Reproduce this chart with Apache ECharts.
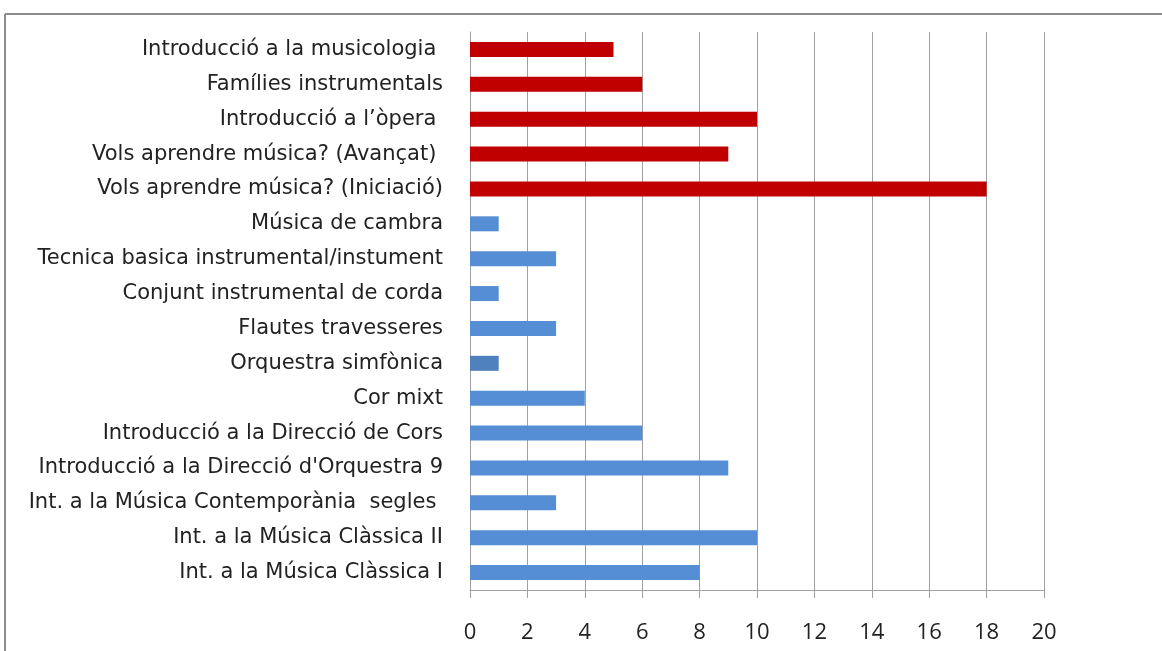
<!DOCTYPE html>
<html>
<head>
<meta charset="utf-8">
<script src="https://cdn.jsdelivr.net/npm/echarts@6/dist/echarts.min.js"></script>
<style>
html,body{margin:0;padding:0;background:#fff;}
#main{width:1162px;height:651px;}
</style>
</head>
<body>
<div id="main"></div>
<script>
const categories = [
  "Introducció a la musicologia ",
  "Famílies instrumentals",
  "Introducció a l’òpera ",
  "Vols aprendre música? (Avançat) ",
  "Vols aprendre música? (Iniciació)",
  "Música de cambra",
  "Tecnica basica instrumental/instument",
  "Conjunt instrumental de corda",
  "Flautes travesseres",
  "Orquestra simfònica",
  "Cor mixt",
  "Introducció a la Direcció de Cors",
  "Introducció a la Direcció d'Orquestra 9",
  "Int. a la Música Contemporània  segles ",
  "Int. a la Música Clàssica II",
  "Int. a la Música Clàssica I"
];
const values = [5, 6, 10, 9, 18, 1, 3, 1, 3, 1, 4, 6, 9, 3, 10, 8];
const groups = ["red","red","red","red","red","blue","blue","blue","blue","dark","blue","blue","blue","blue","blue","blue"];
const xTicks = [0, 20, 2];

const colorMap = {red: "#C00000", blue: "#558ED5", dark: "#4F81BD"};

const chart = echarts.init(document.getElementById('main'));
chart.setOption({
  animation: false,
  backgroundColor: "#fff",
  graphic: [
    {type: 'line', shape: {x1: 5, y1: 14, x2: 1170, y2: 14}, style: {stroke: '#8c8c8c', lineWidth: 2}},
    {type: 'line', shape: {x1: 5, y1: 14, x2: 5, y2: 660}, style: {stroke: '#8c8c8c', lineWidth: 2}}
  ],
  grid: {left: 470, right: 118, top: 32, bottom: 61, containLabel: false},
  xAxis: {
    type: 'value',
    min: xTicks[0], max: xTicks[1], interval: xTicks[2],
    axisLine: {show: true, lineStyle: {color: '#A0A0A0', width: 1}},
    axisTick: {show: true, length: 8, lineStyle: {color: '#A0A0A0'}},
    splitLine: {show: true, lineStyle: {color: '#A0A0A0', width: 1}},
    axisLabel: {color: '#222', fontSize: 22, fontFamily: 'Open Sans', margin: 32}
  },
  yAxis: {
    type: 'category',
    inverse: true,
    data: categories,
    axisLine: {show: true, lineStyle: {color: '#A0A0A0'}},
    axisTick: {show: false},
    axisLabel: {color: '#222', fontSize: 21, fontFamily: 'DejaVu Sans', margin: 27}
  },
  series: [{
    type: 'bar',
    barWidth: 15,
    data: values.map((v, i) => ({value: v, itemStyle: {color: colorMap[groups[i]]}}))
  }]
});
</script>
</body>
</html>
